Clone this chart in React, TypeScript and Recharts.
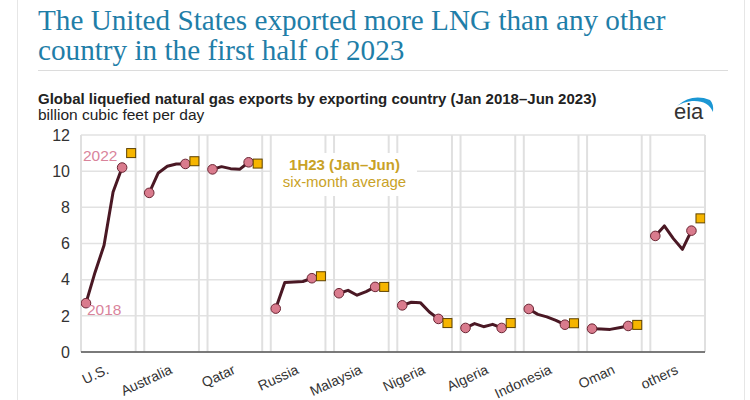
import React from "react"
import {
    ComposedChart,
    Line,
    XAxis,
    YAxis,
    CartesianGrid,
    ReferenceLine,
} from "recharts"

// annual averages 2018..2022, bcf/d
const years = ["2018", "2019", "2020", "2021", "2022"]
const countries = ["U.S.", "Australia", "Qatar", "Russia", "Malaysia", "Nigeria", "Algeria", "Indonesia", "Oman", "others"]
const us = [2.7, 4.4, 5.9, 8.85, 10.2]
const australia = [8.8, 9.9, 10.27, 10.4, 10.4]
const qatar = [10.1, 10.25, 10.14, 10.1, 10.49]
const russia = [2.4, 3.84, 3.87, 3.9, 4.08]
const malaysia = [3.25, 3.41, 3.14, 3.34, 3.6]
const nigeria = [2.58, 2.75, 2.73, 2.21, 1.83]
const algeria = [1.33, 1.57, 1.4, 1.53, 1.33]
const indonesia = [2.38, 2.08, 1.94, 1.75, 1.51]
const oman = [1.29, 1.27, 1.25, 1.34, 1.44]
const others = [6.42, 6.97, 6.27, 5.68, 6.71]
// 1H23 six-month average
const firstHalf2023 = [11.0, 10.55, 10.42, 4.19, 3.6, 1.6, 1.6, 1.59, 1.5, 7.39]
const yTicks = [0, 2, 4, 6, 8, 10, 12]

const annual = [us, australia, qatar, russia, malaysia, nigeria, algeria, indonesia, oman, others]

// each country gets 7 slots on the x scale: 5 years, 1H23, and a gap
const SLOTS = 7
const seriesData = annual.map((vals, i) => vals.map((v, j) => ({ x: i * SLOTS + j, v, year: years[j] })))
const halfData = firstHalf2023.map((v, i) => ({ x: i * SLOTS + years.length, v }))
const panelCenters = countries.map((_, i) => i * SLOTS + 2.5)
const panelEdges = countries.flatMap((_, i) => [i * SLOTS - 0.55, i * SLOTS + 5.5])

const font = "'Liberation Sans', Arial, Helvetica, sans-serif"
const gold = "#c9a227"

const EndDot = (props: any) => {
    const { cx, cy, index } = props
    if (index !== 0 && index !== years.length - 1) return <g key={`d-${index}`} />
    return <circle key={`d-${index}`} cx={cx} cy={cy} r={4.8} fill="#d97b8d" stroke="#6b2634" strokeWidth={1} />
}

const Square = (props: any) => {
    const { cx, cy, index } = props
    return <rect key={`s-${index}`} x={cx - 4.5} y={cy - 4.5} width={9} height={9} fill="#f6b500" stroke="#5e4200" strokeWidth={1} />
}

const CountryTick = (props: any) => {
    const { x, y, payload } = props
    const i = panelCenters.indexOf(payload.value)
    const tx = x - 3
    return (
        <text x={tx} y={y} dy="0.71em" textAnchor="end" transform={`rotate(-25 ${tx} ${y})`} fill="#333" fontSize={14} fontFamily={font}>
            {countries[i]}
        </text>
    )
}

export default function App() {
    return (
        <div style={{ position: "absolute", left: 0, top: 0, width: 750, height: 400, background: "#fff", overflow: "hidden" }}>
            <div style={{ position: "absolute", left: 17, top: 0, width: 1, height: 400, background: "#e6e6e6" }} />
            <div style={{ position: "absolute", left: 744, top: 0, width: 1, height: 400, background: "#e6e6e6" }} />
            <div
                style={{
                    position: "absolute",
                    left: 38,
                    top: 5,
                    fontFamily: "'Liberation Serif', 'Times New Roman', serif",
                    fontSize: 29.2,
                    lineHeight: "30px",
                    color: "#1f7ea8",
                }}
            >
                The United States exported more LNG than any other
                <br />
                country in the first half of 2023
            </div>
            <div style={{ position: "absolute", left: 38, top: 70, width: 690, height: 1, background: "#dcdcdc" }} />
            <div style={{ position: "absolute", left: 38, top: 90, fontFamily: font, fontSize: 15, fontWeight: "bold", color: "#222" }}>
                Global liquefied natural gas exports by exporting country (Jan 2018–Jun 2023)
            </div>
            <div style={{ position: "absolute", left: 38, top: 106, fontFamily: font, fontSize: 15.5, color: "#222" }}>
                billion cubic feet per day
            </div>
            <svg style={{ position: "absolute", left: 668, top: 92 }} width={50} height={34}>
                <path d="M9 14 Q 24 1 42 8 Q 46 12 45 20 Q 40 8 24 9 Q 15 10 9 14 Z" fill="#1b97d4" />
                <text x={6} y={27} fontFamily={font} fontSize={22} fill="#333">eia</text>
            </svg>

            <ComposedChart
                width={750}
                height={400}
                style={{ position: "absolute", left: 0, top: 0 }}
                margin={{ top: 135, right: 45, bottom: 8, left: 30 }}
            >
                <CartesianGrid vertical={false} stroke="#e2e2e2" strokeWidth={1.5} />
                <XAxis
                    dataKey="x"
                    type="number"
                    domain={[-0.55, 68.5]}
                    allowDataOverflow
                    ticks={panelCenters}
                    interval={0}
                    tick={<CountryTick />}
                    tickLine={false}
                    tickSize={0}
                    tickMargin={12}
                    height={40}
                    axisLine={{ stroke: "#555", strokeWidth: 1.5 }}
                />
                <YAxis
                    dataKey="v"
                    type="number"
                    domain={[0, 12]}
                    ticks={yTicks}
                    width={51}
                    tickLine={false}
                    tickSize={0}
                    tickMargin={11}
                    axisLine={false}
                    tick={{ fill: "#333", fontSize: 16, fontFamily: font }}
                />
                {panelEdges.map((e) => (
                    <ReferenceLine key={`e-${e}`} x={e} stroke="#e0e0e0" strokeWidth={2} ifOverflow="visible" />
                ))}
                {seriesData.map((d, i) => (
                    <Line
                        key={countries[i]}
                        data={d}
                        dataKey="v"
                        type="linear"
                        stroke="#4a1824"
                        strokeWidth={3}
                        strokeLinejoin="round"
                        dot={EndDot}
                        activeDot={false}
                        isAnimationActive={false}
                    />
                ))}
                <Line
                    data={halfData}
                    dataKey="v"
                    stroke="none"
                    dot={Square}
                    activeDot={false}
                    isAnimationActive={false}
                />
            </ComposedChart>

            <div style={{ position: "absolute", left: 83, top: 147, fontFamily: font, fontSize: 15.5, color: "#d9849b" }}>2022</div>
            <div style={{ position: "absolute", left: 87, top: 301, fontFamily: font, fontSize: 15.5, color: "#d9849b" }}>2018</div>
            <div
                style={{
                    position: "absolute",
                    left: 272,
                    top: 153,
                    width: 145,
                    height: 43,
                    background: "#fff",
                    fontFamily: font,
                    fontSize: 15,
                    color: gold,
                    textAlign: "center",
                    lineHeight: "17px",
                }}
            >
                <div style={{ fontWeight: "bold", marginTop: 3 }}>1H23 (Jan–Jun)</div>
                <div>six-month average</div>
            </div>
        </div>
    )
}
